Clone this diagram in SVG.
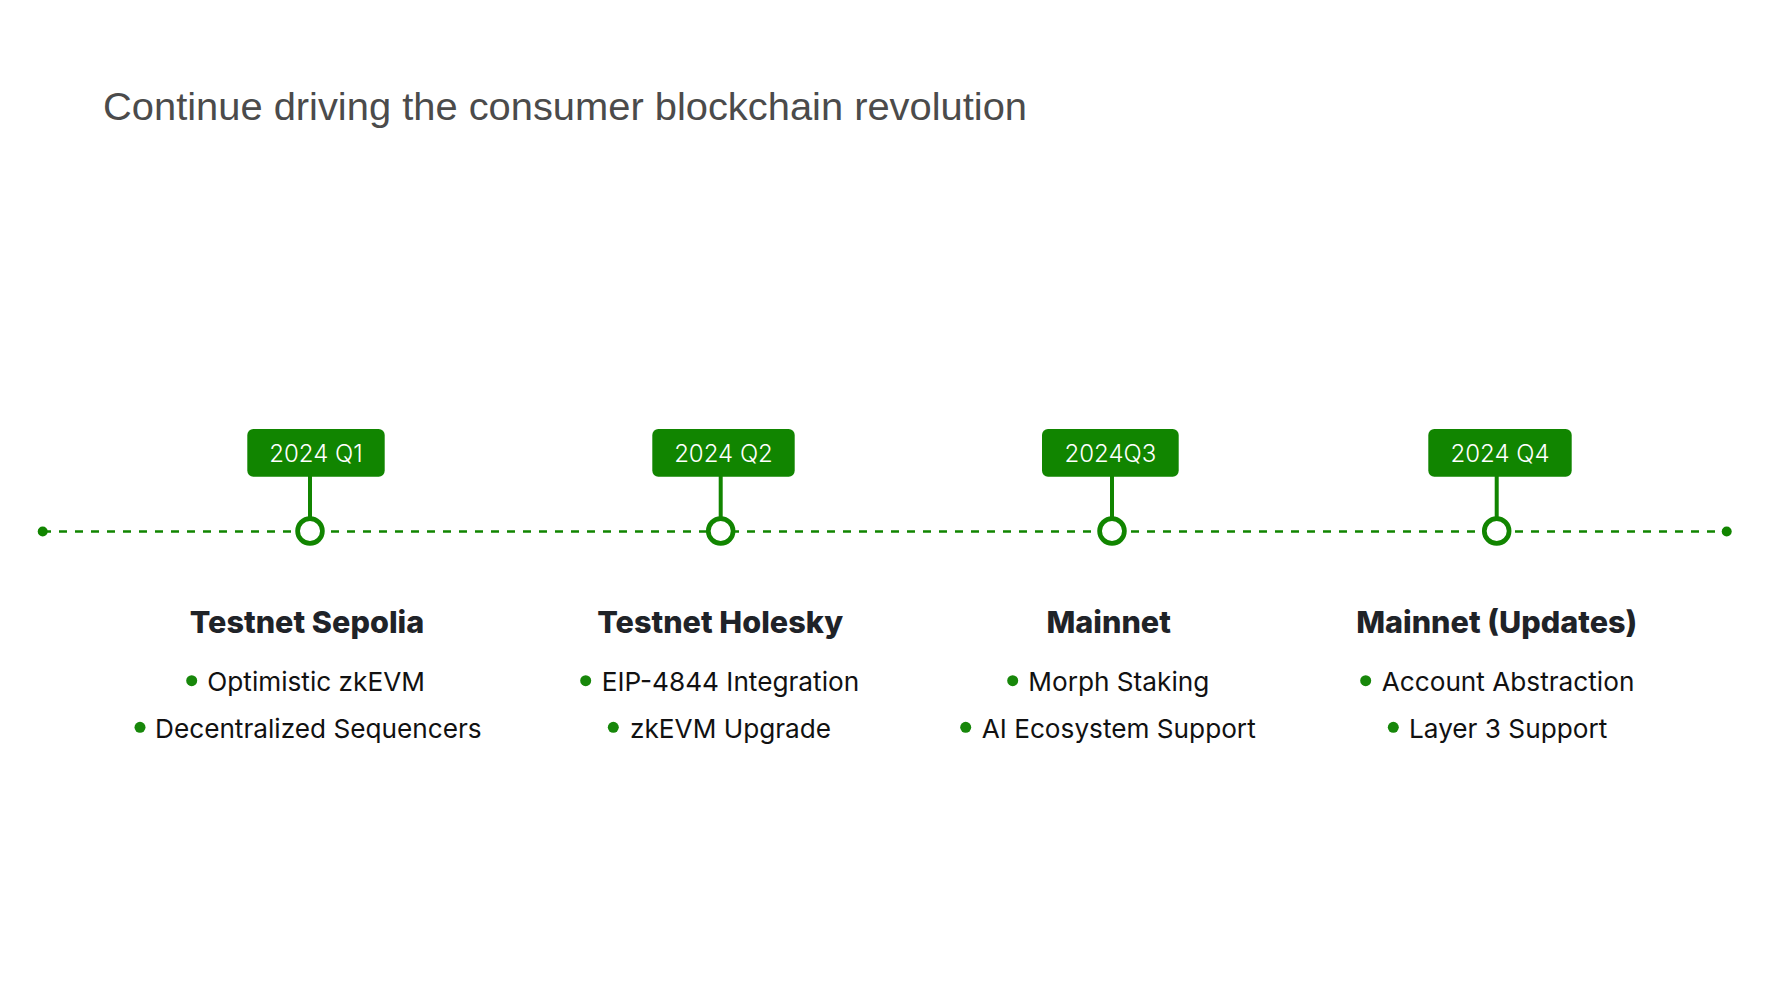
<svg xmlns="http://www.w3.org/2000/svg" width="1770" height="996" viewBox="0 0 1770 996">
<style>
.title{font-family:"Liberation Sans",Arial,sans-serif;font-size:38px;fill:#4b4b4b}
.lbl{font-family:Inter,"Noto Sans",sans-serif;font-size:24px;font-weight:300;fill:#ffffff;text-anchor:middle}
.box{fill:#118500}
.stem{stroke:#118500;stroke-width:4}
.ms{fill:#ffffff;stroke:#118500;stroke-width:4.7}
.head{font-family:Inter,"Noto Sans",sans-serif;font-size:30.6px;font-weight:800;fill:#1f2328;text-anchor:middle}
.item{font-family:Inter,"Noto Sans",sans-serif;font-size:26.2px;fill:#111111}
.dot{fill:#17870a}
.tl{stroke:#118500;stroke-width:2.5;stroke-dasharray:8 8;fill:none}
.end{fill:#118500}
</style>
<rect width="1770" height="996" fill="#ffffff"/>
<text class="title" x="103" y="120" textLength="924" lengthAdjust="spacingAndGlyphs">Continue driving the consumer blockchain revolution</text>
<g id="connectors">
<line class="tl" x1="43" y1="531.5" x2="1727" y2="531.5"/>
<circle class="end" cx="42.7" cy="531.5" r="5"/>
<circle class="end" cx="1726.7" cy="531.5" r="5"/>
<line class="stem" x1="310" y1="476" x2="310" y2="519"/>
<line class="stem" x1="720.7" y1="476" x2="720.7" y2="519"/>
<line class="stem" x1="1112" y1="476" x2="1112" y2="519"/>
<line class="stem" x1="1496.7" y1="476" x2="1496.7" y2="519"/>
</g>
<g id="q1">
<rect class="box" x="247.3" y="429" width="137.4" height="47.7" rx="6"/>
<text class="lbl" x="316" y="462.3">2024 Q1</text>
<circle class="ms" cx="310" cy="531" r="12.4"/>
<text class="head" x="307" y="632.7">Testnet Sepolia</text>
<circle class="dot" cx="191.7" cy="680.7" r="5.5"/>
<text class="item" x="207.3" y="690.7">Optimistic zkEVM</text>
<circle class="dot" cx="140" cy="727.3" r="5.5"/>
<text class="item" x="155" y="738.2">Decentralized Sequencers</text>
</g>
<g id="q2">
<rect class="box" x="652.3" y="429" width="142.4" height="47.7" rx="6"/>
<text class="lbl" x="723.5" y="462.3">2024 Q2</text>
<circle class="ms" cx="720.7" cy="531" r="12.4"/>
<text class="head" x="720.2" y="632.7">Testnet Holesky</text>
<circle class="dot" cx="585.7" cy="680.7" r="5.5"/>
<text class="item" x="601.7" y="690.7">EIP-4844 Integration</text>
<circle class="dot" cx="613.3" cy="727.3" r="5.5"/>
<text class="item" x="630" y="738.2">zkEVM Upgrade</text>
</g>
<g id="q3">
<rect class="box" x="1042" y="429" width="136.7" height="47.7" rx="6"/>
<text class="lbl" x="1110.4" y="462.3">2024Q3</text>
<circle class="ms" cx="1112" cy="531" r="12.4"/>
<text class="head" x="1108.7" y="632.7">Mainnet</text>
<circle class="dot" cx="1012.7" cy="680.7" r="5.5"/>
<text class="item" x="1028.3" y="690.7">Morph Staking</text>
<circle class="dot" cx="965.7" cy="727.3" r="5.5"/>
<text class="item" x="981.7" y="738.2">AI Ecosystem Support</text>
</g>
<g id="q4">
<rect class="box" x="1428.3" y="429" width="143.4" height="47.7" rx="6"/>
<text class="lbl" x="1500" y="462.3">2024 Q4</text>
<circle class="ms" cx="1496.7" cy="531" r="12.4"/>
<text class="head" x="1496.7" y="632.7">Mainnet (Updates)</text>
<circle class="dot" cx="1365.7" cy="680.7" r="5.5"/>
<text class="item" x="1381.7" y="690.7">Account Abstraction</text>
<circle class="dot" cx="1393.3" cy="727.3" r="5.5"/>
<text class="item" x="1409" y="738.2">Layer 3 Support</text>
</g>
</svg>
